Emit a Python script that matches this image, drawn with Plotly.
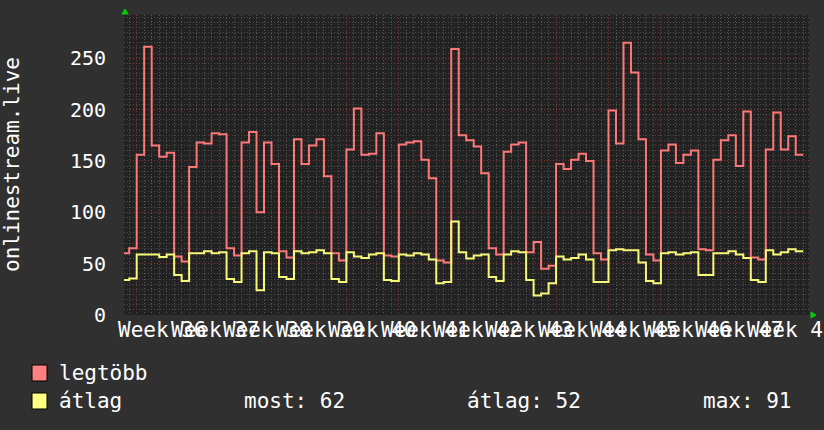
import plotly.graph_objects as go

# ---------------- data (daily values, day 0 = Monday of Week 36) ----------------
first_day = -2
max_values = [60, 65, 156, 261, 165, 154, 158, 57, 52,
              144, 168, 167, 177, 176, 65, 58,
              168, 178, 100, 168, 147, 62, 56,
              171, 147, 165, 171, 135, 60, 53,
              161, 201, 156, 157, 177, 58, 57,
              166, 168, 169, 151, 133, 53, 51,
              259, 175, 170, 164, 138, 65, 59,
              159, 166, 168, 61, 71, 45, 48,
              147, 142, 151, 157, 150, 60, 54,
              199, 167, 265, 236, 171, 59, 53,
              160, 166, 148, 156, 160, 64, 63,
              151, 170, 175, 145, 198, 56, 54,
              161, 197, 161, 174, 156]
avg_values = [34, 35.5, 59, 59, 59, 56.5, 59, 39, 33,
              60, 60, 62, 60, 61, 35, 32,
              60, 62, 24, 61, 60, 37, 35,
              62, 60, 61, 63, 60, 35, 32,
              61, 57, 55.5, 59, 60, 34, 33,
              59, 58, 60, 59, 54, 31, 32,
              91, 61, 55, 58, 59, 37, 33,
              59, 62, 61, 34, 19, 21, 31,
              57, 54, 55.5, 59, 54, 32, 32,
              63, 64, 63, 63, 51, 33, 31,
              60, 61, 59, 60, 61, 39, 39,
              60, 60, 62, 59, 55.5, 34, 32,
              63, 59, 61, 64, 62]
week_numbers = [36, 37, 38, 39, 40, 41, 42, 43, 44, 45, 46, 47, 48]
series_names = ["legtöbb", "átlag"]
stat_labels = ["most: 62", "átlag: 52", "max: 91"]
y_title = "onlinestream.live"

# ---------------- geometry / style ----------------
W_FIG, H_FIG = 824, 430
L, R, T, B = 124, 809, 15, 315
PW, PH = R - L, B - T
FONT = "DejaVu Sans Mono"
RED = "#ff7878"
YEL = "#f8f878"
DAY_PX = 7.489          # pixels per day in the reference
WEEK0_PX = 136.7        # pixel of Week 36 start

def px2x(px):
    return (px - L) / PW

def px2y(py):
    return (B - py) / PH

days = [first_day + i for i in range(len(max_values))]
xs = days + [days[-1] + 1]
ys_max = max_values + [max_values[-1]]
ys_avg = avg_values + [avg_values[-1]]

fig = go.Figure()
fig.add_trace(go.Scatter(x=xs, y=ys_max, mode="lines", line_shape="hv",
                         line=dict(color=RED, width=2), name=series_names[0],
                         showlegend=False))
fig.add_trace(go.Scatter(x=xs, y=ys_avg, mode="lines", line_shape="hv",
                         line=dict(color=YEL, width=2), name=series_names[1],
                         showlegend=False))

annotations = []
for wk_i, wk in enumerate(week_numbers):
    annotations.append(dict(x=7 * wk_i + 3.5, xref="x", y=px2y(330), yref="paper",
                            text=f"Week {wk}", showarrow=False, xanchor="center",
                            yanchor="middle", font=dict(family=FONT, size=21, color="#ffffff")))

annotations.append(dict(x=px2x(12), xref="paper", y=0.5, yref="paper", text=y_title,
                        textangle=-90, showarrow=False, xanchor="center", yanchor="middle",
                        font=dict(family=FONT, size=21, color="#ffffff")))

legend_rows = [(373, "#ff8080", series_names[0]), (401, "#ffff80", series_names[1])]
shapes = []
for cy, col, name in legend_rows:
    shapes.append(dict(type="rect", xref="paper", yref="paper",
                       x0=px2x(32), x1=px2x(47), y0=px2y(cy + 8), y1=px2y(cy - 8),
                       fillcolor=col, line=dict(color="#000000", width=1)))
    annotations.append(dict(x=px2x(57), xref="paper", y=px2y(cy), yref="paper", text=name,
                            showarrow=False, xanchor="left", yanchor="middle",
                            font=dict(family=FONT, size=21, color="#ffffff")))
for sx, txt in zip([242, 465, 701], stat_labels):
    annotations.append(dict(x=px2x(sx), xref="paper", y=px2y(401), yref="paper", text=txt,
                            showarrow=False, xanchor="left", yanchor="middle",
                            font=dict(family=FONT, size=21, color="#ffffff")))

# green arrows at axis ends
shapes.append(dict(type="path", xref="paper", yref="paper",
                   path=f"M {px2x(122)} {px2y(14)} L {px2x(128)} {px2y(14)} L {px2x(125)} {px2y(9)} Z",
                   fillcolor="#00cc00", line=dict(color="#00cc00", width=1)))
shapes.append(dict(type="path", xref="paper", yref="paper",
                   path=f"M {px2x(811)} {px2y(312)} L {px2x(811)} {px2y(318)} L {px2x(816)} {px2y(315)} Z",
                   fillcolor="#00cc00", line=dict(color="#00cc00", width=1)))

fig.update_layout(
    width=W_FIG, height=H_FIG,
    margin=dict(l=L, r=W_FIG - R, t=T, b=H_FIG - B, autoexpand=False),
    paper_bgcolor="#303030", plot_bgcolor="#222222",
    annotations=annotations, shapes=shapes,
    xaxis=dict(range=[(L - WEEK0_PX) / DAY_PX, (R - WEEK0_PX) / DAY_PX],
               tickmode="linear", tick0=0, dtick=7, showticklabels=False, ticks="",
               showgrid=True, gridcolor="#8a3636", griddash="1px,2px", gridwidth=1,
               zeroline=False, showline=False,
               minor=dict(tick0=0, dtick=1, showgrid=True, gridcolor="#585858",
                          griddash="1px,2px", gridwidth=1)),
    yaxis=dict(range=[0, 292], tickmode="linear", tick0=0, dtick=50,
               tickfont=dict(family=FONT, size=20, color="#ffffff"), ticks="",
               ticklabelstandoff=17,
               showgrid=True, gridcolor="#8a3636", griddash="1px,2px", gridwidth=1,
               zeroline=False, showline=False,
               minor=dict(tick0=0, dtick=5, showgrid=True, gridcolor="#4c4c4c",
                          griddash="1px,2px", gridwidth=1)),
)

fig.write_html("out.html", config={"displayModeBar": False},
               post_script="document.body.style.margin='0';document.body.style.background='#303030';")
